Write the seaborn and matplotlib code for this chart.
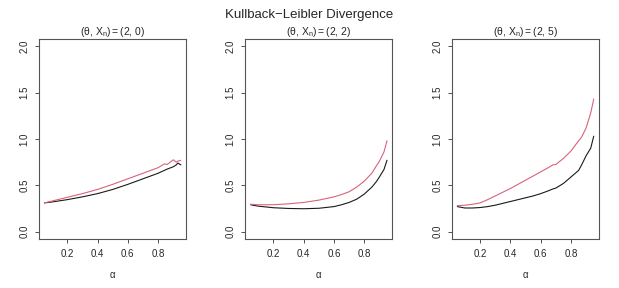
import numpy as np
import pandas as pd
import matplotlib
matplotlib.use("Agg")
import matplotlib.pyplot as plt
import seaborn as sns

# alpha grid and KL divergence curves
alpha_1 = [0.05, 0.1, 0.2, 0.3, 0.4, 0.5, 0.6, 0.7, 0.8, 0.84, 0.86, 0.9, 0.92, 0.93, 0.95]
black_1 = [0.31, 0.32, 0.345, 0.375, 0.41, 0.455, 0.51, 0.57, 0.63, 0.66, 0.675, 0.70, 0.72, 0.74, 0.72]
pink_1 = [0.31, 0.33, 0.37, 0.41, 0.455, 0.51, 0.57, 0.63, 0.69, 0.73, 0.725, 0.775, 0.75, 0.76, 0.77]

alpha_2 = [0.05, 0.1, 0.2, 0.3, 0.4, 0.5, 0.6, 0.65, 0.7, 0.75, 0.8, 0.85, 0.88, 0.9, 0.93, 0.95]
black_2 = [0.29, 0.275, 0.258, 0.25, 0.247, 0.252, 0.27, 0.29, 0.315, 0.35, 0.405, 0.48, 0.54, 0.59, 0.67, 0.77]
pink_2 = [0.295, 0.29, 0.29, 0.30, 0.315, 0.34, 0.375, 0.40, 0.43, 0.48, 0.545, 0.63, 0.71, 0.76, 0.86, 0.98]

alpha_3 = [0.05, 0.1, 0.15, 0.2, 0.25, 0.3, 0.35, 0.4, 0.45, 0.5, 0.55, 0.6, 0.65, 0.68, 0.7,
           0.75, 0.8, 0.85, 0.87, 0.9, 0.93, 0.95]
black_3 = [0.27, 0.255, 0.255, 0.26, 0.27, 0.285, 0.305, 0.325, 0.345, 0.365, 0.385, 0.41, 0.44, 0.46, 0.47,
           0.52, 0.59, 0.66, 0.72, 0.82, 0.90, 1.03]
pink_3 = [0.28, 0.285, 0.295, 0.31, 0.345, 0.385, 0.425, 0.465, 0.51, 0.555, 0.60, 0.645, 0.69, 0.72, 0.725,
          0.79, 0.87, 0.98, 1.02, 1.12, 1.28, 1.43]

titles = [r"$(\mathrm{\theta},\,\mathrm{X_n})=(2,\,0)$",
          r"$(\mathrm{\theta},\,\mathrm{X_n})=(2,\,2)$",
          r"$(\mathrm{\theta},\,\mathrm{X_n})=(2,\,5)$"]

sns.set_style("ticks")
plt.rcParams['font.family'] = ['Liberation Sans', 'DejaVu Sans']
plt.rcParams['mathtext.fontset'] = 'custom'
plt.rcParams['mathtext.rm'] = 'Liberation Sans'
plt.rcParams['mathtext.it'] = 'Liberation Sans:italic'

fig = plt.figure(figsize=(6.19, 2.88), dpi=100)
lefts = [0.063, 0.396, 0.730]
panels = [(alpha_1, black_1, pink_1), (alpha_2, black_2, pink_2), (alpha_3, black_3, pink_3)]
pal = {"black": "#1a1a1a", "pink": "#D9637A"}

for left, (a, b, p), title in zip(lefts, panels, titles):
    ax = fig.add_axes([left, 0.170, 0.238, 0.695])
    df = pd.DataFrame({"alpha": a + a, "kl": b + p,
                       "series": ["black"] * len(a) + ["pink"] * len(a)})
    sns.lineplot(data=df, x="alpha", y="kl", hue="series", palette=pal,
                 linewidth=0.8, legend=False, ax=ax, estimator=None)
    ax.set_xlim(0.014, 0.986)
    ax.set_ylim(-0.08, 2.08)
    ax.set_xticks([0.2, 0.4, 0.6, 0.8])
    ax.set_yticks([0.0, 0.5, 1.0, 1.5, 2.0])
    ax.set_yticklabels(["0.0", "0.5", "1.0", "1.5", "2.0"], rotation=90, va="center")
    ax.tick_params(labelsize=7, length=3, width=0.6, color="#333333", pad=4)
    for s in ax.spines.values():
        s.set_linewidth(0.8)
        s.set_color("#555555")
    ax.set_xlabel("α", fontsize=7, labelpad=8)
    ax.set_ylabel("")
    ax.set_title(title, fontsize=7.5, pad=3)

fig.suptitle("Kullback−Leibler Divergence", fontsize=9.5, y=0.97)
fig.savefig("out.png", dpi=100)
